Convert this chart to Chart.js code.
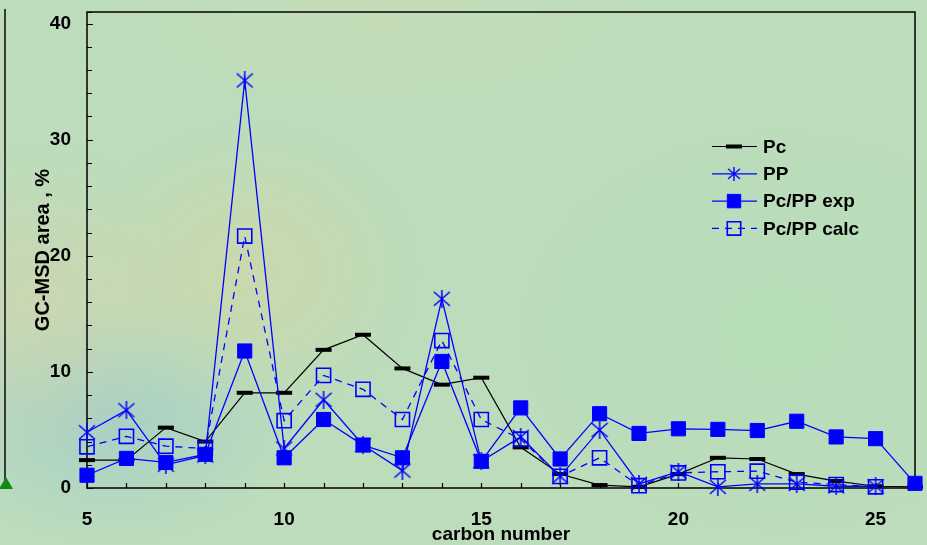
<!DOCTYPE html>
<html>
<head>
<meta charset="utf-8">
<script src="https://cdn.jsdelivr.net/npm/chart.js@4/dist/chart.umd.min.js"></script>
<style>
html,body{margin:0;padding:0;width:927px;height:545px;overflow:hidden}
body{
  position:relative;
  background:
    radial-gradient(ellipse 170px 150px at 250px 270px, rgba(212,214,162,0.6), rgba(212,214,162,0) 100%),
    radial-gradient(ellipse 150px 160px at 40px 300px, rgba(212,212,168,0.55), rgba(212,212,168,0) 100%),
    radial-gradient(ellipse 190px 120px at 110px 420px, rgba(160,202,200,0.7), rgba(160,202,200,0) 100%),
    radial-gradient(ellipse 320px 110px at 380px 25px, rgba(204,220,180,0.5), rgba(204,220,180,0) 100%),
    radial-gradient(ellipse 260px 200px at 780px 330px, rgba(180,222,182,0.6), rgba(180,222,182,0) 100%),
    #bcdcbc;
}
#wrap{position:absolute;left:0;top:0;width:927px;height:545px}
#edge{position:absolute;left:4px;top:9px;width:2px;height:478px;background:#3a3a3a}
#tri{position:absolute;left:-1px;top:477px;width:0;height:0;border-left:7px solid transparent;border-right:7px solid transparent;border-bottom:12px solid #118811}
</style>
</head>
<body>
<div id="edge"></div>
<div id="tri"></div>
<div id="wrap"><canvas id="c" width="927" height="545"></canvas></div>
<script>
// ---- data ----
const carbonNumbers = [5,6,7,8,9,10,11,12,13,14,15,16,17,18,19,20,21,22,23,24,25,26];
const pc       = [2.4, 2.4, 5.2, 4.0, 8.2, 8.2, 11.9, 13.2, 10.3, 8.9, 9.5, 3.5, 1.2, 0.25, 0.1, 1.2, 2.6, 2.5, 1.2, 0.6, 0.15, 0.1];
const pp       = [4.8, 6.7, 2.0, 2.8, 35.1, 3.4, 7.6, 3.7, 1.5, 16.3, 2.3, 4.4, 1.0, 5.0, 0.35, 1.4, 0.1, 0.35, 0.35, 0.15, 0.15, null];
const pcppExp  = [1.1, 2.55, 2.2, 2.9, 11.8, 2.6, 5.9, 3.7, 2.6, 10.9, 2.3, 6.9, 2.5, 6.4, 4.7, 5.1, 5.05, 4.95, 5.75, 4.4, 4.25, 0.4];
const pcppCalc = [3.55, 4.45, 3.6, 3.4, 21.7, 5.8, 9.7, 8.5, 5.9, 12.7, 5.9, 4.2, 1.0, 2.6, 0.2, 1.3, 1.4, 1.45, 0.5, 0.3, 0.1, null];
const seriesNames = ['Pc', 'PP', 'Pc/PP exp', 'Pc/PP calc'];
const xTickLabels = [5, 10, 15, 20, 25];
const yTickLabels = [0, 10, 20, 30, 40];

const toXY = arr => carbonNumbers.map((c, i) => ({x: c, y: arr[i]}));

function makeAsterisk(size, color, lw) {
  const c = document.createElement('canvas');
  c.width = size; c.height = size;
  const g = c.getContext('2d');
  g.strokeStyle = color; g.lineWidth = lw;
  const h = size / 2;
  g.beginPath();
  g.moveTo(h, 0); g.lineTo(h, size);
  g.moveTo(1, 2); g.lineTo(size - 1, size - 2);
  g.moveTo(size - 1, 2); g.lineTo(1, size - 2);
  g.stroke();
  return c;
}
const star = makeAsterisk(18, '#0000ff', 1.5);
const starSmall = makeAsterisk(14, '#0000ff', 1.4);
const BLUE = '#0000ff';
const FONT = "'Liberation Sans', Arial, sans-serif";

const datasets = [
  {label: seriesNames[0], data: toXY(pc), borderColor: '#000', borderWidth: 1.2,
   pointStyle: 'line', pointRadius: 8, pointBorderWidth: 4, pointBorderColor: '#000', pointBackgroundColor: '#000',
   order: 3, legendStyle: 'line', legendRadius: 8},
  {label: seriesNames[1], data: toXY(pp), borderColor: BLUE, borderWidth: 1.3,
   pointStyle: star, pointRadius: 9, pointBorderWidth: 1, pointBorderColor: BLUE, pointBackgroundColor: BLUE,
   order: 1, legendStyle: starSmall, legendRadius: 7},
  {label: seriesNames[2], data: toXY(pcppExp), borderColor: BLUE, borderWidth: 1.3,
   pointStyle: 'rect', pointRadius: 10, pointBorderWidth: 1, pointBorderColor: BLUE, pointBackgroundColor: BLUE,
   order: 0, legendStyle: 'rect', legendRadius: 9.5},
  {label: seriesNames[3], data: toXY(pcppCalc), borderColor: BLUE, borderWidth: 1.3, borderDash: [7, 6],
   pointStyle: 'rect', pointRadius: 10, pointBorderWidth: 1.6, pointBorderColor: BLUE, pointBackgroundColor: 'rgba(0,0,0,0)',
   order: 2, legendStyle: 'rect', legendRadius: 9.5}
];
datasets.forEach(d => { d.clip = false; d.fill = false; d.tension = 0; d.spanGaps = false; d.pointHoverRadius = d.pointRadius; });

const frameTicks = {
  id: 'frameTicks',
  beforeDatasetsDraw(chart) {
    const {ctx, chartArea: a, scales: {x, y}} = chart;
    ctx.save();
    ctx.strokeStyle = '#000';
    ctx.lineWidth = 1.5;
    ctx.strokeRect(a.left, a.top, a.right - a.left, a.bottom - a.top);
    ctx.lineWidth = 1.2;
    ctx.beginPath();
    y.ticks.forEach(t => {
      const py = Math.round(y.getPixelForValue(t.value)) + 0.5;
      ctx.moveTo(a.left, py); ctx.lineTo(a.left + (t.value % 10 === 0 ? 6 : 5), py);
    });
    x.ticks.forEach(t => {
      const px = Math.round(x.getPixelForValue(t.value)) + 0.5;
      ctx.moveTo(px, a.bottom); ctx.lineTo(px, a.bottom - 5);
    });
    ctx.stroke();
    ctx.restore();
  }
};

const insideLegend = {
  id: 'insideLegend',
  afterDraw(chart) {
    const ctx = chart.ctx;
    const x0 = 712, x1 = 757, xm = 734, xt = 763, y0 = 146.5, dy = 27.3;
    chart.data.datasets.forEach((ds, i) => {
      const yy = y0 + i * dy;
      ctx.save();
      ctx.strokeStyle = ds.borderColor;
      ctx.lineWidth = ds.borderWidth;
      ctx.setLineDash(ds.borderDash || []);
      ctx.beginPath(); ctx.moveTo(x0, yy); ctx.lineTo(x1, yy); ctx.stroke();
      ctx.setLineDash([]);
      ctx.strokeStyle = ds.pointBorderColor;
      ctx.fillStyle = ds.pointBackgroundColor;
      ctx.lineWidth = ds.pointBorderWidth;
      Chart.helpers.drawPoint(ctx, {pointStyle: ds.legendStyle, radius: ds.legendRadius, rotation: 0, borderWidth: ds.pointBorderWidth}, xm, yy);
      ctx.fillStyle = '#000';
      ctx.font = 'bold 19px ' + FONT;
      ctx.textBaseline = 'middle';
      ctx.textAlign = 'left';
      ctx.fillText(ds.label, xt, yy + 1);
      ctx.restore();
    });
  }
};

function zeroPad(s) { s.paddingTop = 0; s.paddingBottom = 0; s.paddingLeft = 0; s.paddingRight = 0; }

new Chart(document.getElementById('c'), {
  type: 'line',
  data: {datasets},
  options: {
    responsive: false,
    animation: false,
    devicePixelRatio: 1,
    events: [],
    layout: {padding: {left: 0, top: 9, right: 12, bottom: 0}},
    plugins: {legend: {display: false}, tooltip: {enabled: false}},
    scales: {
      x: {
        type: 'linear', min: 5, max: 26, bounds: 'data',
        grid: {display: false, drawTicks: false},
        border: {display: false},
        ticks: {stepSize: 1, autoSkip: false, maxRotation: 0, padding: 20,
          color: '#000', font: {family: FONT, size: 19, weight: 'bold'},
          callback: v => xTickLabels.includes(v) ? String(v) : ''},
        title: {display: true, text: 'carbon number', color: '#000',
          font: {family: FONT, size: 19, weight: 'bold', lineHeight: 1.05}, padding: {top: 0, bottom: 0}},
        afterFit: s => { s.height = 57; zeroPad(s); }
      },
      y: {
        type: 'linear', min: 0, max: 41, bounds: 'data',
        grid: {display: false, drawTicks: false},
        border: {display: false},
        ticks: {stepSize: 2, includeBounds: false, autoSkip: false, padding: 16,
          color: '#000', font: {family: FONT, size: 19, weight: 'bold'},
          callback: v => yTickLabels.includes(v) ? String(v) : ''},
        title: {display: true, text: 'GC-MSD area , %', color: '#000',
          font: {family: FONT, size: 20, weight: 'bold', lineHeight: 1.2}, padding: {top: 31, bottom: 0}},
        afterFit: s => { s.width = 87; zeroPad(s); }
      }
    }
  },
  plugins: [frameTicks, insideLegend]
});
</script>
</body>
</html>
